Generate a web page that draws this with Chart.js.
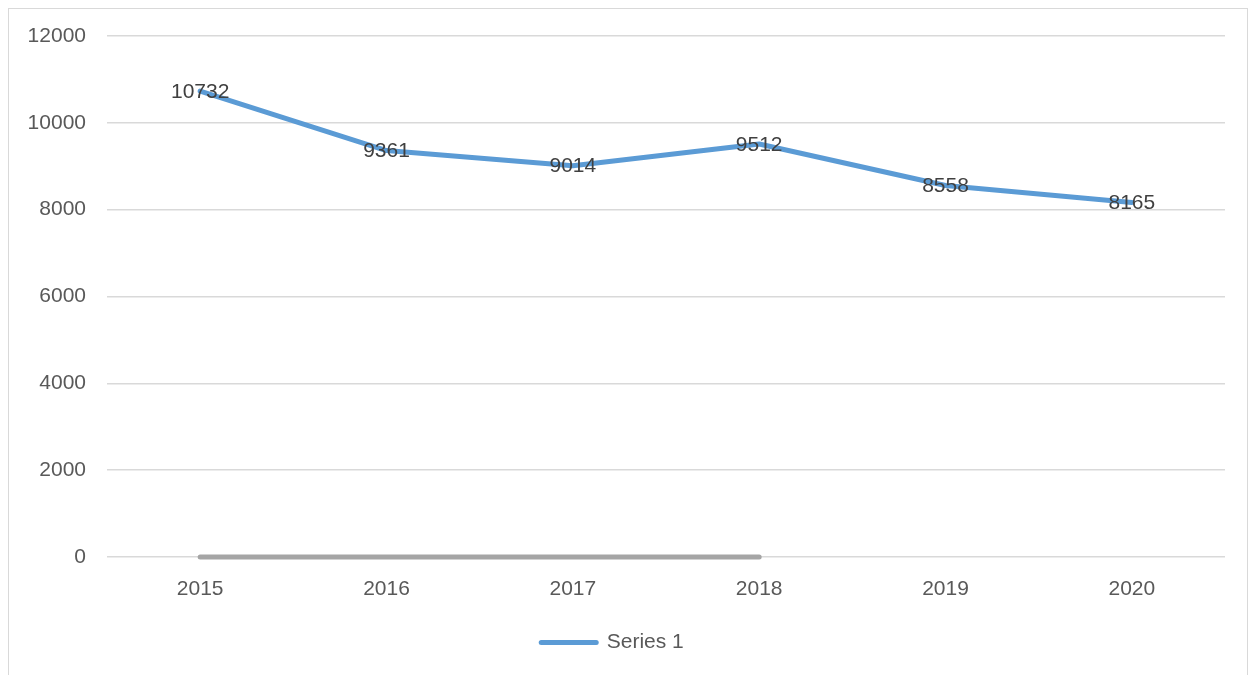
<!DOCTYPE html>
<html>
<head>
<meta charset="utf-8">
<script src="https://cdn.jsdelivr.net/npm/chart.js@4/dist/chart.umd.min.js"></script>
<style>
  html, body { margin: 0; padding: 0; background: #fff; }
  #wrap { position: relative; width: 1254px; height: 675px; overflow: hidden; }
  #frame { position: absolute; left: 8px; top: 8px; width: 1240px; height: 720px; border: 1px solid #d9d9d9; box-sizing: border-box; }
  canvas { position: absolute; left: 0; top: 0; }
</style>
</head>
<body>
<div id="wrap">
  <div id="frame"></div>
  <canvas id="lineChart" width="1254" height="675"></canvas>
</div>
<script>
// Values
const years = ['2015', '2016', '2017', '2018', '2019', '2020'];
const series1 = [10732, 9361, 9014, 9512, 8558, 8165];
const series2 = [0, 0, 0, 0, null, null];
const series3 = [0, 0, 0, 0, null, null];
const yTicks = [0, 2000, 4000, 6000, 8000, 10000, 12000];

const FONT = '"Liberation Sans", Arial, sans-serif';

// draws the value on each point of series 1
const pointLabels = {
    id: 'pointLabels',
    afterDatasetsDraw(chart) {
        const ctx = chart.ctx;
        const meta = chart.getDatasetMeta(0);
        ctx.save();
        ctx.font = '21px ' + FONT;
        ctx.fillStyle = '#404040';
        ctx.textAlign = 'center';
        ctx.textBaseline = 'middle';
        meta.data.forEach((pt, i) => {
            ctx.fillText(String(series1[i]), pt.x, pt.y + 1);
        });
        ctx.restore();
    }
};

function initLineChart() {
    const ctx = document.getElementById('lineChart').getContext('2d');
    new Chart(ctx, {
        type: 'line',
        data: {
            labels: years,
            datasets: [{
                label: 'Series 1',
                data: series1,
                borderColor: '#5B9BD5',
                backgroundColor: '#5B9BD5',
                borderWidth: 5,
                pointRadius: 0,
                borderCapStyle: 'round',
                borderJoinStyle: 'round',
                tension: 0,
                order: 1
            }, {
                label: 'Series 2',
                data: series2,
                borderColor: '#ED7D31',
                borderWidth: 2,
                pointRadius: 0,
                clip: false,
                order: 3
            }, {
                label: 'Series 3',
                data: series3,
                borderColor: '#A5A5A5',
                borderWidth: 5,
                pointRadius: 0,
                borderCapStyle: 'round',
                clip: false,
                order: 2
            }]
        },
        options: {
            responsive: false,
            animation: false,
            layout: { padding: { top: 36, right: 29, bottom: 12, left: 0 } },
            plugins: {
                tooltip: { enabled: false },
                legend: {
                    position: 'bottom',
                    labels: {
                        color: '#595959',
                        font: { size: 21, family: FONT },
                        usePointStyle: true,
                        pointStyle: 'line',
                        pointStyleWidth: 55,
                        padding: 10,
                        filter: (item) => item.datasetIndex === 0,
                        generateLabels: (chart) => {
                            const items = Chart.defaults.plugins.legend.labels.generateLabels(chart);
                            items.forEach(it => { it.lineCap = 'round'; it.lineWidth = 5; });
                            return items;
                        }
                    }
                }
            },
            scales: {
                x: {
                    offset: true,
                    grid: { display: false, drawTicks: false },
                    border: { display: false },
                    ticks: {
                        color: '#595959',
                        padding: 20,
                        font: { size: 21, family: FONT }
                    },
                    afterFit: (scale) => { scale.height = 65; }
                },
                y: {
                    min: 0,
                    max: 12000,
                    grid: { color: '#D9D9D9', lineWidth: 1.5, drawTicks: false },
                    border: { display: false },
                    afterBuildTicks: (scale) => { scale.ticks = yTicks.map(v => ({ value: v })); },
                    ticks: {
                        color: '#595959',
                        padding: 21,
                        font: { size: 21, family: FONT },
                        callback: (v) => String(v)
                    },
                    afterFit: (scale) => { scale.width = 107; }
                }
            }
        },
        plugins: [pointLabels]
    });
}

document.addEventListener('DOMContentLoaded', () => {
    initLineChart();
});
</script>
</body>
</html>
